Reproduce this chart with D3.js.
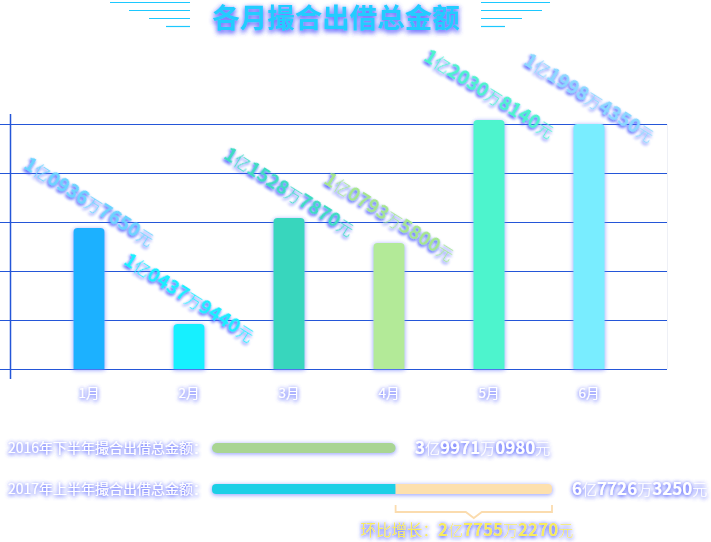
<!DOCTYPE html>
<html><head><meta charset="utf-8">
<script src="https://cdn.jsdelivr.net/npm/d3@7"></script>
<style>body{margin:0;background:#fff;} svg{display:block}</style>
</head><body><svg id="c" width="711" height="542"></svg>
<script>
const title = "各月撮合出借总金额";
const months = ["1月","2月","3月","4月","5月","6月"];
const amountYi = ["1","1","1","1","1","1"];
const amountWan = ["0936","0437","1528","0793","2030","1998"];
const amountYuan = ["7650","9440","7870","5800","8140","4350"];
const barLevels = [2.88, 0.92, 3.08, 2.57, 5.08, 5.0];
const yTicks = [0, 1, 2, 3, 4, 5];
const barColors = ["#1fb1ff","#18f0ff","#38d6bd","#b3ea98","#4df4cd","#79edff"];
const labelColors = ["#6ad4ff","#18f0ff","#3cdcc0","#a6e68a","#4cf4cc","#8ad8ff"];
const halfLabels = ["2016年下半年撮合出借总金额：","2017年上半年撮合出借总金额："];
const halfTotals = [["3","9971","0980"],["6","7726","3250"]];
const halfShare = [54, 100];
const growthLabel = "环比增长：";
const growthAmount = ["2","7755","2270"];

const svg = d3.select("#c");
const defs = svg.append("defs");
function glow(id, color, sd, dy, op){
  const f = defs.append("filter").attr("id", id).attr("x","-30%").attr("y","-60%").attr("width","160%").attr("height","220%");
  f.append("feGaussianBlur").attr("in","SourceAlpha").attr("stdDeviation",sd).attr("result","b");
  f.append("feOffset").attr("in","b").attr("dx",0).attr("dy",dy).attr("result","o");
  f.append("feFlood").attr("flood-color",color).attr("flood-opacity",op);
  f.append("feComposite").attr("in2","o").attr("operator","in").attr("result","s");
  const m = f.append("feMerge");
  m.append("feMergeNode").attr("in","s");
  m.append("feMergeNode").attr("in","s");
  m.append("feMergeNode").attr("in","SourceGraphic");
}
glow("gTitle", "#5a5cff", 2.5, 2, 0.75);
glow("gText", "#4d5cff", 1.5, 1.5, 0.7);
glow("gWhite", "#5663ff", 2, 1, 0.8);
glow("gBar", "#7f8cff", 2, 1, 0.5);

const font = "'Noto Sans CJK SC','Noto Sans',sans-serif";

// Title
svg.append("text").attr("x", 336).attr("y", 28).attr("text-anchor","middle")
  .attr("font-family", font).attr("font-weight", 700).attr("font-size", 27.5)
  .attr("fill", "#22ccff").attr("filter","url(#gTitle)").text(title);
const decoY = [2.5, 10.5, 18.5, 26.5];
const decoLeftStart = [110, 129, 149, 166];
const decoRightEnd = [550, 542, 522, 505];
decoY.forEach((yy, i) => {
  svg.append("line").attr("x1", decoLeftStart[i]).attr("x2", 190).attr("y1", yy).attr("y2", yy)
    .attr("stroke", "#1cc8ff").attr("stroke-width", 1.2);
  svg.append("line").attr("x1", 481).attr("x2", decoRightEnd[i]).attr("y1", yy).attr("y2", yy)
    .attr("stroke", "#1cc8ff").attr("stroke-width", 1.2);
});

// Scales
const x = d3.scalePoint().domain(months).range([39, 639]).padding(0.5);
const y = d3.scaleLinear().domain([0, 5]).range([369, 124]);
const barW = 31;

// grid
svg.append("line").attr("x1", 667.5).attr("x2", 667.5).attr("y1", y(5)).attr("y2", y(0))
  .attr("stroke", "#eef0f6").attr("stroke-width", 1);
svg.selectAll("line.grid").data(yTicks).join("line").attr("class","grid")
  .attr("x1", 0).attr("x2", 667).attr("y1", d => Math.round(y(d)) + 0.5).attr("y2", d => Math.round(y(d)) + 0.5)
  .attr("stroke", "#2456d8").attr("stroke-width", 1.2);
svg.append("line").attr("x1", 10.5).attr("x2", 10.5).attr("y1", 114).attr("y2", 379)
  .attr("stroke", "#2456d8").attr("stroke-width", 1.5);

// bars
function topRounded(x0, y0, w, h, r){
  r = Math.min(r, h);
  return `M${x0},${y0+h}V${y0+r}Q${x0},${y0} ${x0+r},${y0}H${x0+w-r}Q${x0+w},${y0} ${x0+w},${y0+r}V${y0+h}Z`;
}
svg.selectAll("path.bar").data(months).join("path").attr("class","bar")
  .attr("d", (m, i) => topRounded(x(m) - barW/2, y(barLevels[i]), barW, y(0) - y(barLevels[i]), 4))
  .attr("fill", (m, i) => barColors[i]).attr("filter","url(#gBar)");

// value labels
months.forEach((m, i) => {
  const g = svg.append("g").attr("transform", `translate(${x(m)},${y(barLevels[i]) - 26}) rotate(32)`);
  const t = g.append("text").attr("text-anchor","middle").attr("dy","0.35em")
    .attr("font-family", font).attr("fill", labelColors[i]).attr("filter","url(#gText)");
  const parts = [[amountYi[i],1],["亿",0],[amountWan[i],1],["万",0],[amountYuan[i],1],["元",0]];
  parts.forEach(([s, b]) => t.append("tspan").attr("font-size", b ? 19 : 16)
    .attr("font-weight", b ? 700 : 300).text(s));
});

// x labels
svg.selectAll("text.xl").data(months).join("text").attr("class","xl")
  .attr("x", d => x(d)).attr("y", 398).attr("text-anchor","middle")
  .attr("font-family", font).attr("font-size", 13.5).attr("fill", "#ffffff")
  .attr("filter","url(#gWhite)").text(d => d);

// bottom comparison
const hx = d3.scaleLinear().domain([0, 100]).range([212, 552]);
const rowY = [448, 489];
halfLabels.forEach((lab, i) => {
  svg.append("text").attr("x", 8).attr("y", rowY[i] + 5).attr("font-family", font)
    .attr("font-size", 14).attr("fill", "#ffffff").attr("filter","url(#gWhite)").text(lab);
});
// row 1 bar
svg.append("rect").attr("x", hx(0)).attr("y", rowY[0] - 5).attr("width", hx(halfShare[0]) - hx(0)).attr("height", 10)
  .attr("rx", 5).attr("fill", "#a9d593").attr("filter","url(#gBar)");
// row 2 bar with split
const cp = defs.append("clipPath").attr("id","clip2");
cp.append("rect").attr("x", hx(0)).attr("y", rowY[1] - 5).attr("width", hx(halfShare[1]) - hx(0)).attr("height", 10).attr("rx", 4);
const g2 = svg.append("g").attr("filter","url(#gBar)");
const g2c = g2.append("g").attr("clip-path","url(#clip2)");
g2c.append("rect").attr("x", hx(0)).attr("y", rowY[1] - 5).attr("width", hx(halfShare[0]) - hx(0)).attr("height", 10).attr("fill", "#1fcfe6");
g2c.append("rect").attr("x", hx(halfShare[0])).attr("y", rowY[1] - 5).attr("width", hx(halfShare[1]) - hx(halfShare[0])).attr("height", 10).attr("fill", "#fde0ae");

const totalX = [415, 572];
halfTotals.forEach((p, i) => {
  const t = svg.append("text").attr("x", totalX[i]).attr("y", rowY[i] + 6).attr("font-family", font)
    .attr("fill", "#ffffff").attr("filter","url(#gWhite)");
  [[p[0],1],["亿",0],[p[1],1],["万",0],[p[2],1],["元",0]].forEach(([s,b]) =>
    t.append("tspan").attr("font-size", b ? 17 : 15).attr("font-weight", b ? 700 : 300).text(s));
});

// bracket
const bx0 = hx(halfShare[0]), bx1 = hx(halfShare[1]), bm = (bx0 + bx1) / 2;
svg.append("path").attr("d", `M${bx0},505V512H${bm-8}L${bm},518L${bm+8},512H${bx1}V505`)
  .attr("fill","none").attr("stroke","#fbdcae").attr("stroke-width", 1.8);
const gt = svg.append("text").attr("x", bm - 7).attr("y", 536).attr("text-anchor","middle")
  .attr("font-family", font).attr("fill", "#f7ec5e").attr("filter","url(#gWhite)");
gt.append("tspan").attr("font-size", 15.5).attr("font-weight", 400).text(growthLabel);
[[growthAmount[0],1],["亿",0],[growthAmount[1],1],["万",0],[growthAmount[2],1],["元",0]].forEach(([s,b]) =>
  gt.append("tspan").attr("font-size", b ? 17 : 15).attr("font-weight", b ? 700 : 300).text(s));
</script></body></html>
